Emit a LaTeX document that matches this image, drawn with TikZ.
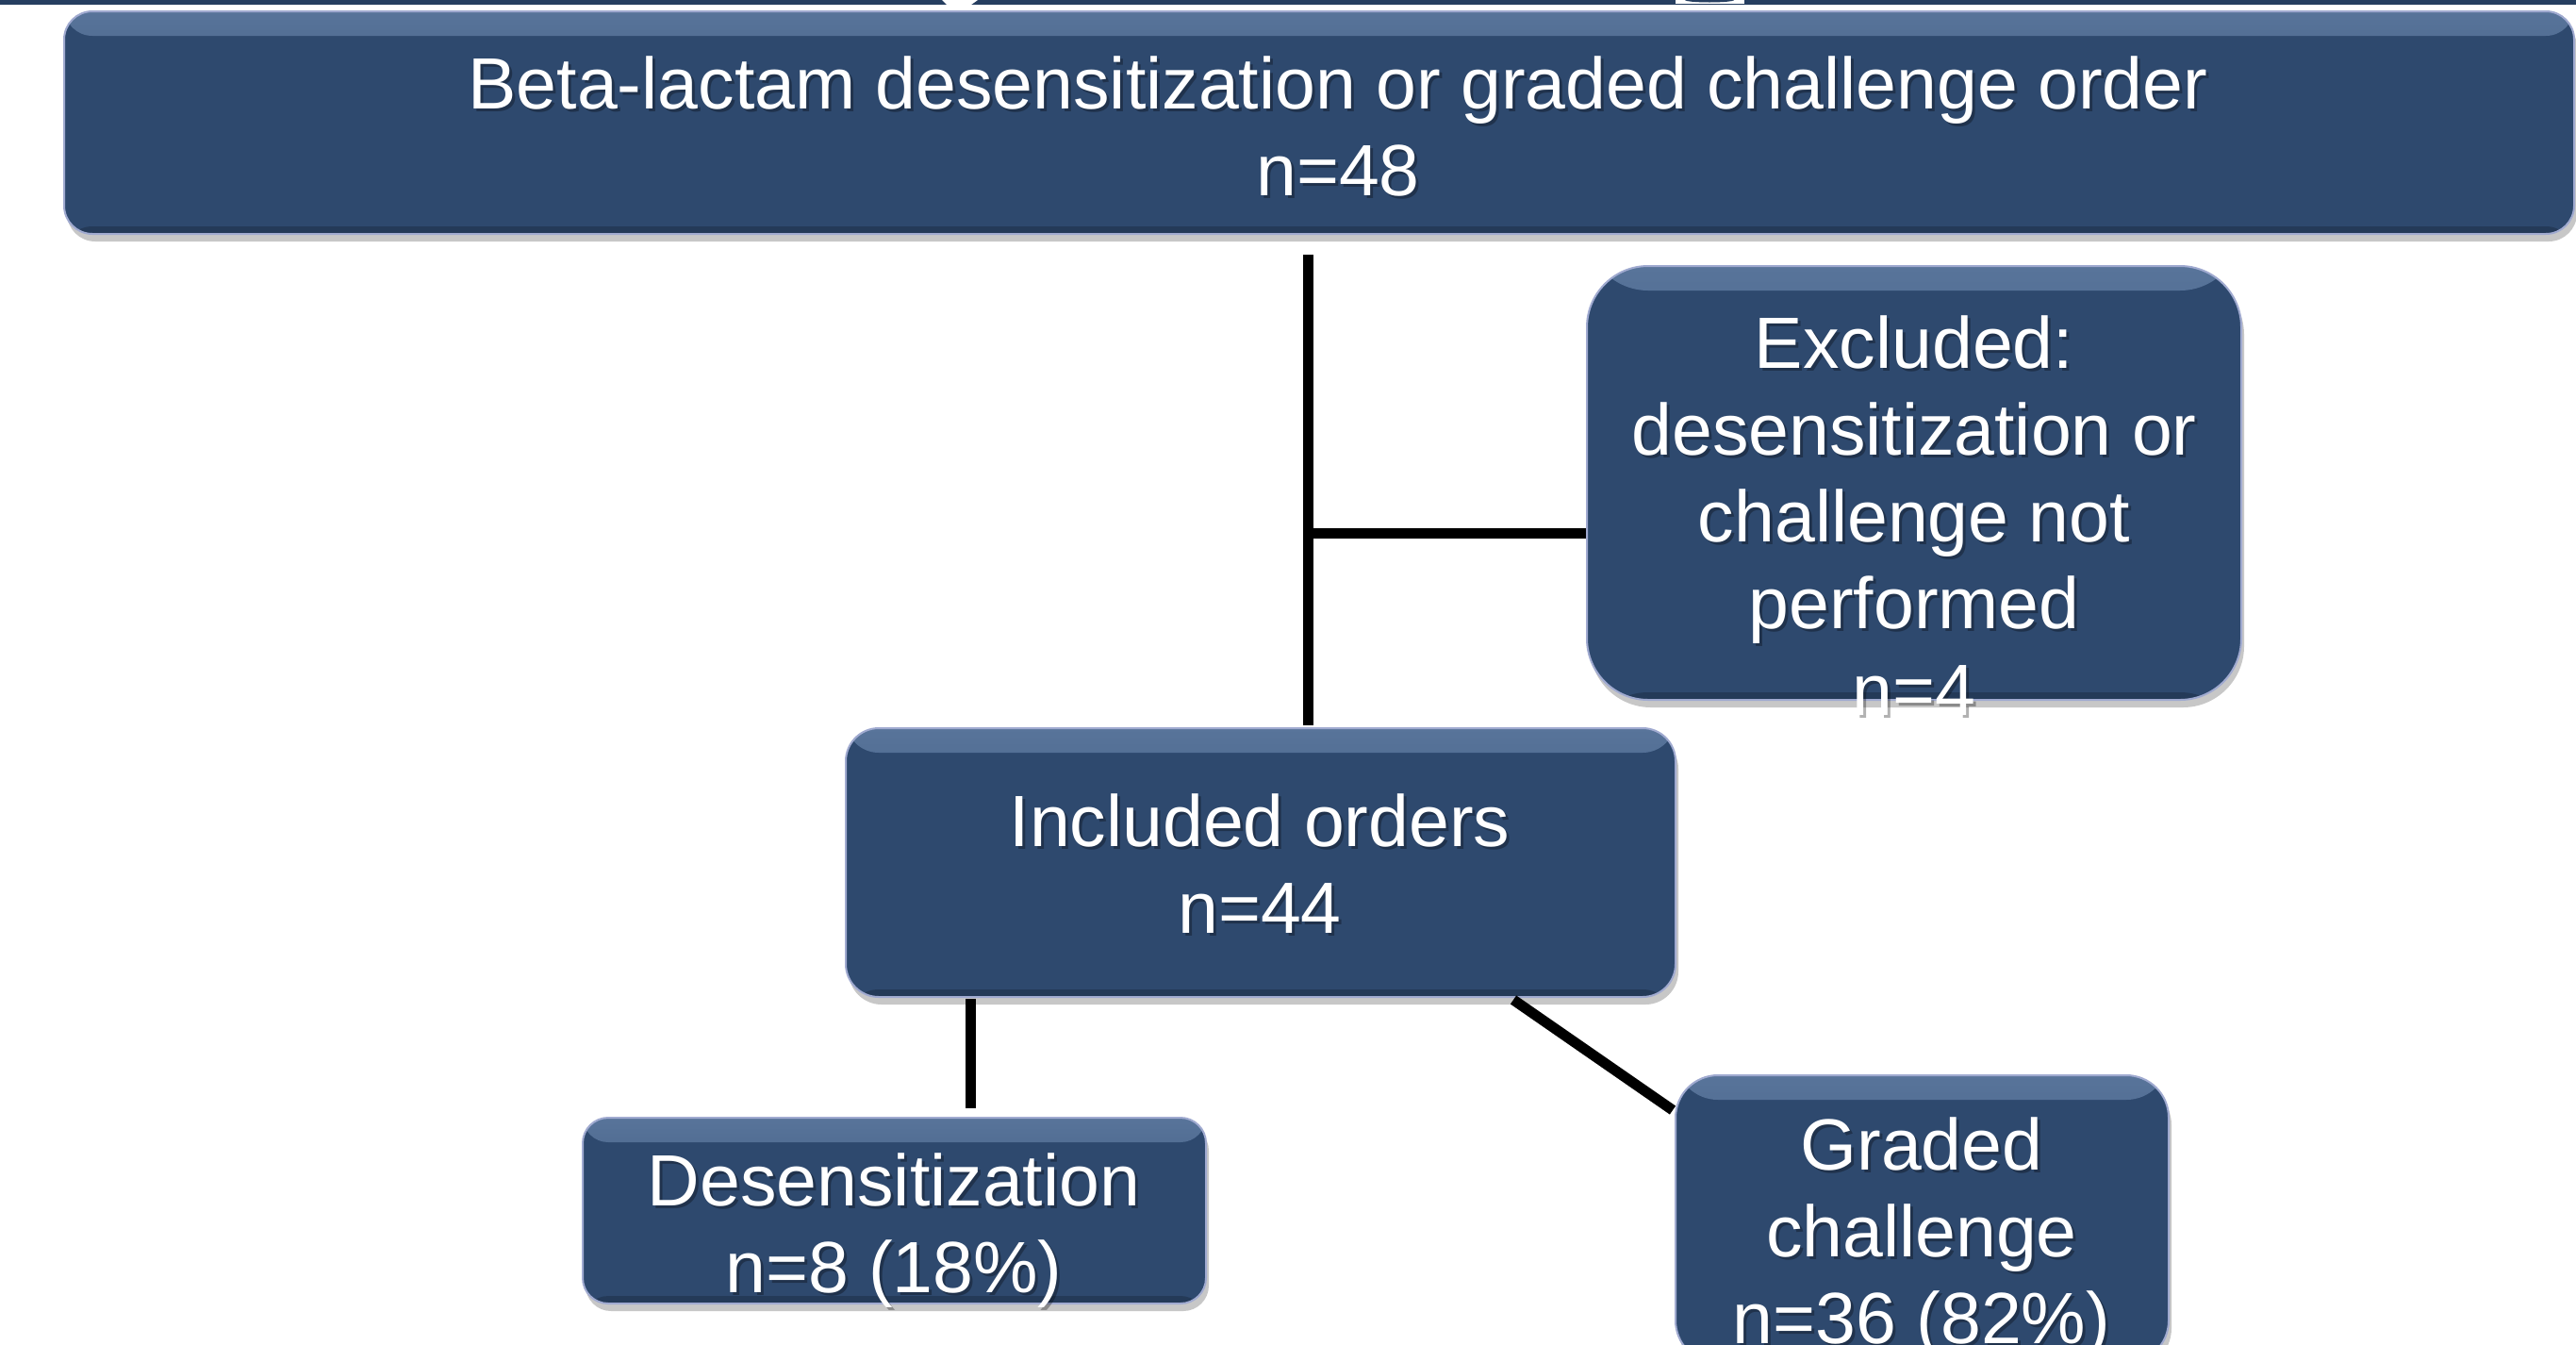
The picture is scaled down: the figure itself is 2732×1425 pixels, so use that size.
\documentclass[tikz,border=0pt]{standalone}
\usepackage{fontspec}
\setmainfont{Liberation Sans}
\usetikzlibrary{shadows,calc}
\definecolor{boxnavy}{RGB}{46,73,110}
\definecolor{boxhl}{RGB}{88,116,154}
\definecolor{boxedge}{RGB}{160,170,208}
\definecolor{bandnavy}{RGB}{38,62,96}
\tikzset{
  navybox/.style={draw=boxedge, line width=2pt, fill=boxnavy, inner sep=0pt,
    rounded corners=#1,
    drop shadow={shadow xshift=3pt, shadow yshift=-8pt, opacity=0.22, fill=black},
    path picture={
      \shade[top color=boxhl, bottom color=boxnavy]
        (path picture bounding box.north west) rectangle ([yshift=-26pt]path picture bounding box.north east);
      \fill[black, opacity=0.2]
        ([yshift=8pt]path picture bounding box.south west) rectangle (path picture bounding box.south east);
    }},
  lbl/.style={text=white, anchor=base, inner sep=0pt, font=\fontsize{77}{92}\selectfont},
  lblshadow/.style={text=black, text opacity=0.3, anchor=base, inner sep=0pt, font=\fontsize{77}{92}\selectfont},
  conn/.style={line width=11pt, draw=black}
}
\newcommand\shadowedtext[4]{%
  \node[lblshadow] (#1s) at (#2+3,#3+3) {\begin{tabular}[t]{@{}c@{}}#4\end{tabular}};
  \node[lbl] (#1) at (#2,#3) {\begin{tabular}[t]{@{}c@{}}#4\end{tabular}};}
\begin{document}
\begin{tikzpicture}[x=1pt, y=-1pt]
\useasboundingbox (0,0) rectangle (2732,1425);
\clip (0,0) rectangle (2732,1425);
\fill[white] (0,0) rectangle (2732,1425);
% cut-off title band
\fill[bandnavy] (0,0) rectangle (2732,5);
\fill[white] (999,0) -- (1037,0) -- (1030,5) -- (1004,5) -- cycle;
\fill[white] (1777,0) rectangle (1850,4);
\fill[bandnavy] (1813,0) ellipse [x radius=26, y radius=2.5];

% boxes
\node[navybox=30pt, minimum width=2662pt, minimum height=236pt] (top) at (1399,130) {};
\node[navybox=65pt, minimum width=694pt, minimum height=460pt] (exc) at (2030,512) {};
\node[navybox=35pt, minimum width=880pt, minimum height=285pt] (inc) at (1337,914.5) {};
\node[navybox=27pt, minimum width=661pt, minimum height=197pt] (des) at (948.5,1283.5) {};
\node[navybox=45pt, minimum width=523pt, minimum height=305pt] (gra) at (2038.5,1292.5) {};

% connectors
\coordinate (vtop) at (1387,270);
\coordinate (junc) at (1387,565);
\coordinate (dtop) at (1029,1059);
\coordinate (gtop) at (1605,1060);
\draw[conn] (vtop) -- ($(vtop |- inc.north)+(0,-2)$);
\draw[conn] (junc) -- (junc -| exc.west);
\draw[conn] (dtop) -- ($(dtop |- des.north)+(0,-9)$);
\draw[conn] (gtop) -- ($(gra.north west)+(-2,38)$);

% texts
\shadowedtext{ttop}{1419}{115}{Beta-lactam desensitization or graded challenge order\\ n=48}
\shadowedtext{texc}{2030}{390}{Excluded:\\ desensitization or\\ challenge not\\ performed\\ n=4}
\shadowedtext{tinc}{1336}{897}{Included orders\\ n=44}
\shadowedtext{tdes}{948}{1278}{Desensitization\\ n=8 (18\%)}
\shadowedtext{tgra}{2038}{1240}{Graded\\ challenge\\ n=36 (82\%)}
\end{tikzpicture}
\end{document}
